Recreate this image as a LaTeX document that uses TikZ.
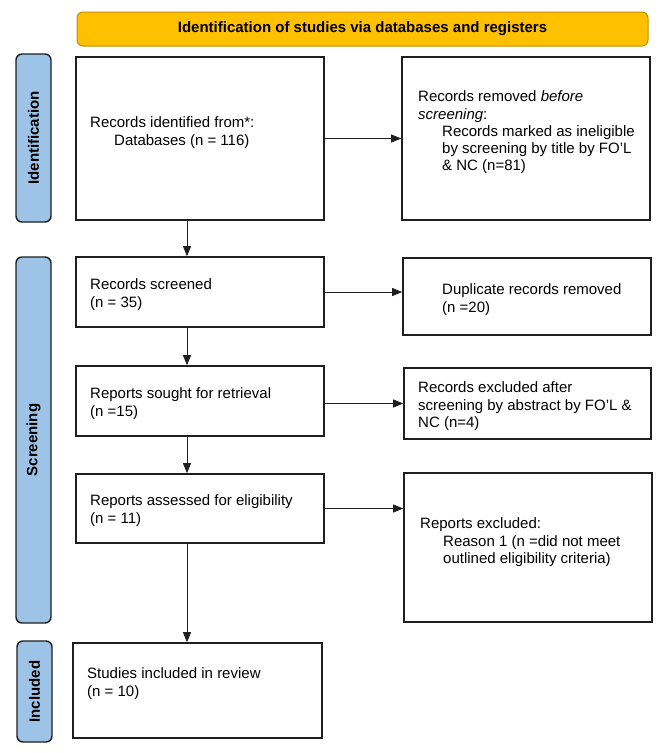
\documentclass[tikz,border=0pt]{standalone}
\usepackage{fontspec}
\setmainfont{Liberation Sans}
\usetikzlibrary{arrows.meta}
\definecolor{bannerfill}{HTML}{FFC000}
\definecolor{bannerdraw}{HTML}{BF9000}
\definecolor{sidefill}{HTML}{9DC3E6}
\definecolor{boxline}{HTML}{1F1F1F}
\newcommand\firstline{\rule{0pt}{11pt}}
\begin{document}
\begin{tikzpicture}[x=1pt,y=-1pt,
  box/.style={draw=boxline, line width=1.6pt, fill=white, inner sep=0pt},
  txt/.style={anchor=north west, inner sep=0pt, align=left, font=\fontsize{15}{17.3}\selectfont},
  side/.style={draw=boxline, line width=1.4pt, fill=sidefill, rounded corners=6pt, inner sep=0pt, rotate=90, font=\bfseries\fontsize{15}{18}\selectfont},
  banner/.style={draw=bannerdraw, line width=1pt, fill=bannerfill, rounded corners=6pt, inner sep=0pt, font=\bfseries\fontsize{15}{18}\selectfont},
  arr/.style={-{Triangle[length=10pt,width=8pt]}, line width=0.8pt, draw=boxline},
]
\useasboundingbox (0,0) rectangle (669,753);

% banner and side labels
\node[banner, minimum width=571pt, minimum height=34pt] (ban) at (362.5,29) {Identification of studies via databases and registers};
\node[side, minimum width=168pt, minimum height=35pt] (sideid) at (33.5,138) {Identification};
\node[side, minimum width=366pt, minimum height=35pt] (sidescr) at (33.5,440) {Screening};
\node[side, minimum width=101pt, minimum height=35pt] (sideinc) at (34.5,691.5) {Included};

% boxes
\node[box, minimum width=248pt, minimum height=163pt] (b1) at (200,138.5) {};
\node[box, minimum width=248pt, minimum height=163pt] (rem) at (526,138.5) {};
\node[box, minimum width=248pt, minimum height=70pt] (scr) at (200,292) {};
\node[box, minimum width=248pt, minimum height=77pt] (dup) at (527,296.5) {};
\node[box, minimum width=248pt, minimum height=70pt] (sought) at (200,401) {};
\node[box, minimum width=247pt, minimum height=71pt] (excl) at (527.5,403.5) {};
\node[box, minimum width=248pt, minimum height=69pt] (ass) at (200,508.5) {};
\node[box, minimum width=248pt, minimum height=149pt] (rex) at (528,547.5) {};
\node[box, minimum width=249pt, minimum height=95pt] (stud) at (197.5,690.5) {};

% texts
\node[txt] (t1) at (90,116.5) {\firstline Records identified from*:\\\hspace*{24pt}Databases (n = 116)};
\node[txt] (t2) at (418,90.5) {\firstline Records removed \textit{before}\\\textit{screening}:\\\hspace*{24pt}Records marked as ineligible\\\hspace*{24pt}by screening by title by FO’L\\\hspace*{24pt}\& NC (n=81)};
\node[txt] (t3) at (90,278.5) {\firstline Records screened\\(n = 35)};
\node[txt] (t4) at (442,283.5) {\firstline Duplicate records removed\\(n =20)};
\node[txt] (t5) at (90,387.5) {\firstline Reports sought for retrieval\\(n =15)};
\node[txt] (t6) at (418,381.5) {\firstline Records excluded after\\screening by abstract by FO’L \&\\NC (n=4)};
\node[txt] (t7) at (90,494.5) {\firstline Reports assessed for eligibility\\(n = 11)};
\node[txt] (t8) at (420,517.5) {\firstline Reports excluded:\\\hspace*{23pt}Reason 1 (n =did not meet\\\hspace*{23pt}outlined eligibility criteria)};
\node[txt] (t9) at (87,667.5) {\firstline Studies included in review\\(n = 10)};

% connectors
\coordinate (vx) at (187,0);
\draw[arr] (b1.south -| vx) -- (scr.north -| vx);
\draw[arr] (scr.south -| vx) -- (sought.north -| vx);
\draw[arr] (sought.south -| vx) -- (ass.north -| vx);
\draw[arr] (ass.south -| vx) -- (stud.north -| vx);
\draw[arr] (b1.east) -- (rem.west);
\draw[arr] (scr.east) -- (scr.east -| dup.west);
\draw[arr] (excl.west -| sought.east) -- (excl.west);
\draw[arr] (ass.east) -- (ass.east -| rex.west);
\end{tikzpicture}
\end{document}
